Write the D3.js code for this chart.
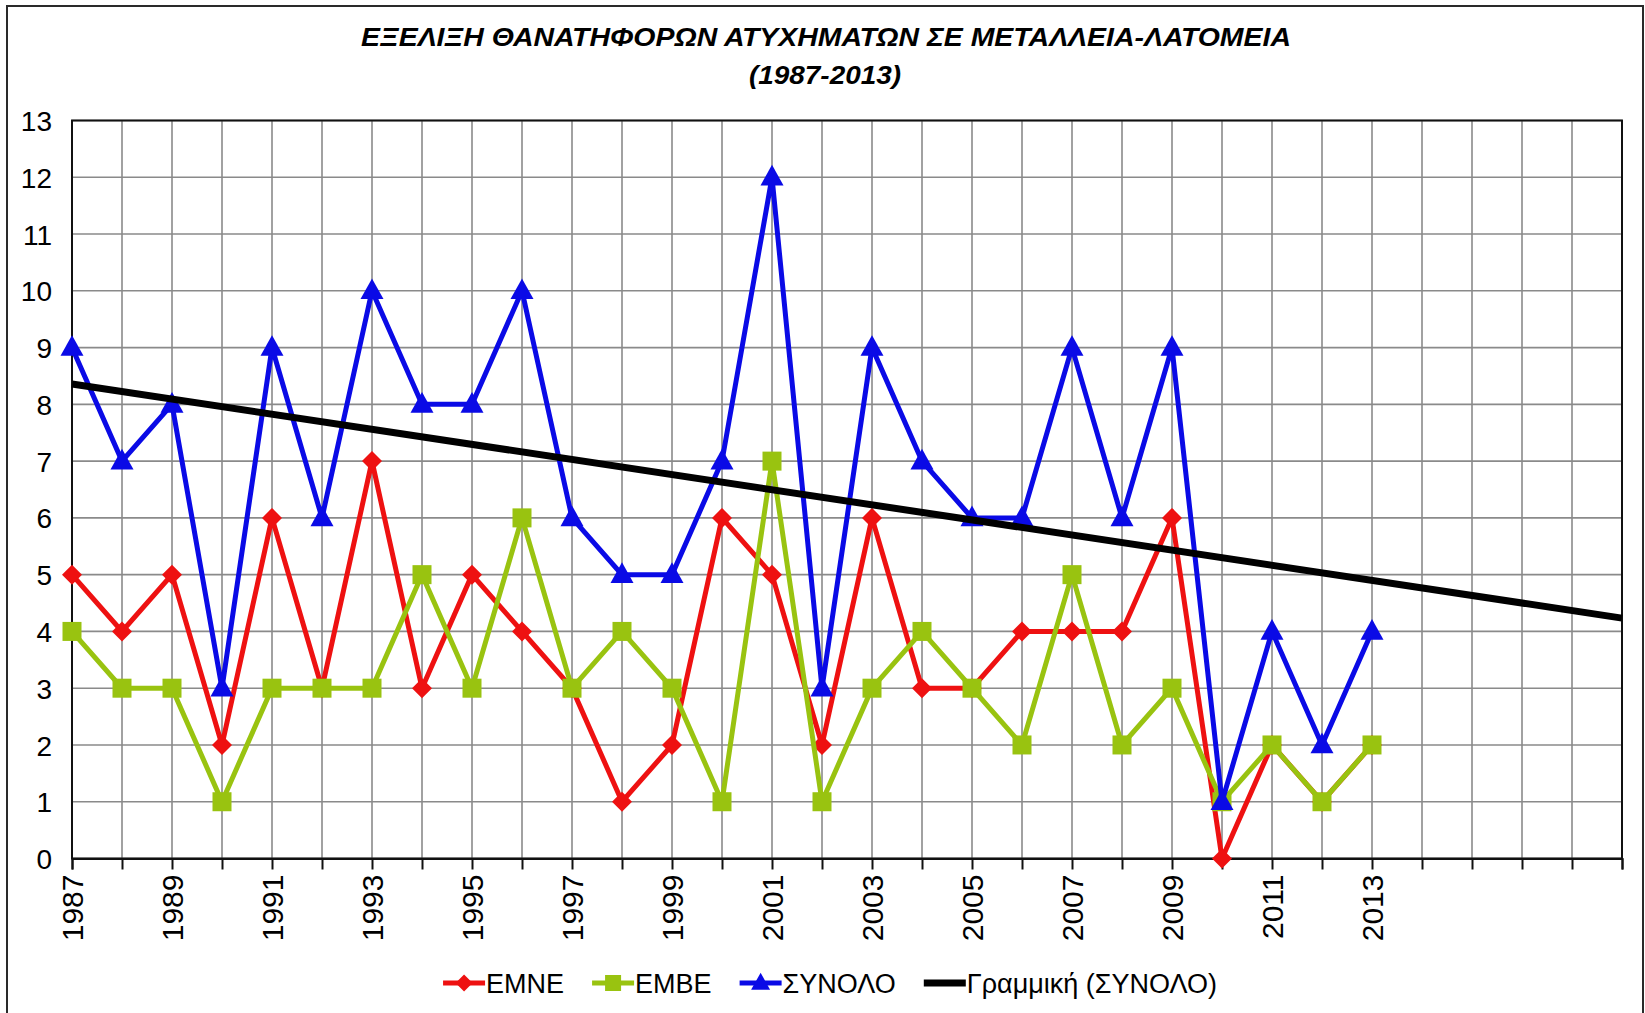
<!DOCTYPE html>
<html>
<head>
<meta charset="utf-8">
<script src="https://cdn.jsdelivr.net/npm/d3@7"></script>
<style>
html,body{margin:0;padding:0;background:#fff;}
svg{display:block;}
text{font-family:"Liberation Sans",Arial,sans-serif;fill:#000;}
</style>
</head>
<body>
<svg id="chart" width="1645" height="1013"></svg>
<script>
// ---- data ----
const years = [1987,1988,1989,1990,1991,1992,1993,1994,1995,1996,1997,1998,1999,2000,
               2001,2002,2003,2004,2005,2006,2007,2008,2009,2010,2011,2012,2013];
const extraCategories = 5; // blank categories to the right (trend forecast)
const emne   = [5,4,5,2,6,3,7,3,5,4,3,1,2,6,5,2,6,3,3,4,4,4,6,0,2,1,2];
const embe   = [4,3,3,1,3,3,3,5,3,6,3,4,3,1,7,1,3,4,3,2,5,2,3,1,2,1,2];
const synolo = [9,7,8,3,9,6,10,8,8,10,6,5,5,7,12,3,9,7,6,6,9,6,9,1,4,2,4];
const yTicks = [0,1,2,3,4,5,6,7,8,9,10,11,12,13];
const seriesNames = ["EMNE","EMBE","ΣΥΝΟΛΟ","Γραμμική (ΣΥΝΟΛΟ)"];
const titleLine1 = "ΕΞΕΛΙΞΗ ΘΑΝΑΤΗΦΟΡΩΝ ΑΤΥΧΗΜΑΤΩΝ ΣΕ ΜΕΤΑΛΛΕΙΑ-ΛΑΤΟΜΕΙΑ";
const titleLine2 = "(1987-2013)";

// ---- layout ----
const svg = d3.select("#chart");
const L = 72, R = 1622, T = 120.5, B = 858.5;
const nCat = years.length + extraCategories;
const catIdx = d3.range(nCat);
const x = d3.scaleLinear().domain([0, nCat - 1]).range([L, R]);
const y = d3.scaleLinear().domain([0, 13]).range([B, T]);

// outer frame
svg.append("rect").attr("x",7).attr("y",6).attr("width",1636).attr("height",1030)
  .attr("fill","#fff").attr("stroke","#2a2a2a").attr("stroke-width",2);

// title
svg.append("text").attr("x",826).attr("y",46).attr("text-anchor","middle")
  .attr("font-size",26).attr("font-weight","bold").attr("font-style","italic")
  .attr("textLength",930).attr("lengthAdjust","spacingAndGlyphs").text(titleLine1);
svg.append("text").attr("x",825).attr("y",84).attr("text-anchor","middle")
  .attr("font-size",26).attr("font-weight","bold").attr("font-style","italic")
  .attr("textLength",152).attr("lengthAdjust","spacingAndGlyphs").text(titleLine2);

// gridlines
const grid = svg.append("g");
grid.selectAll("line.h").data(yTicks).join("line")
  .attr("x1",L).attr("x2",R).attr("y1",d=>y(d)).attr("y2",d=>y(d))
  .attr("stroke","#8a8a8a").attr("stroke-width",1.6);
grid.selectAll("line.v").data(catIdx).join("line")
  .attr("x1",d=>x(d)).attr("x2",d=>x(d)).attr("y1",T).attr("y2",B)
  .attr("stroke","#8a8a8a").attr("stroke-width",1.6);
// plot border
svg.append("rect").attr("x",L).attr("y",T).attr("width",R-L).attr("height",B-T)
  .attr("fill","none").attr("stroke","#111").attr("stroke-width",2);

// y axis
const yAxis = d3.axisLeft(y).tickValues(yTicks).tickSize(0).tickPadding(20);
const gy = svg.append("g").attr("transform",`translate(${L},0)`).call(yAxis);
gy.select(".domain").remove();
gy.selectAll("text").attr("font-size",28).attr("font-family","Liberation Sans, Arial, sans-serif")
  .attr("fill","#111").attr("dy","0.36em");

// x axis
const labelFor = i => (i < years.length && i % 2 === 0) ? String(years[i]) : "";
const xAxis = d3.axisBottom(x).tickValues(catIdx).tickSize(11).tickFormat(labelFor);
const gx = svg.append("g").attr("transform",`translate(0,${B})`).call(xAxis);
gx.select(".domain").attr("stroke","#111").attr("stroke-width",2);
gx.selectAll(".tick line").attr("stroke","#111").attr("stroke-width",2);
gx.selectAll("text").attr("font-size",30).attr("font-family","Liberation Sans, Arial, sans-serif")
  .attr("fill","#111")
  .attr("transform","rotate(-90)")
  .attr("text-anchor","end")
  .attr("x",-16).attr("y",0).attr("dy","0.36em");

// markers
function marker(sel, type, color, size){
  if(type==="diamond"){
    const s=size/2;
    sel.append("path").attr("d",`M0,${-s}L${s},0L0,${s}L${-s},0Z`).attr("fill",color);
  } else if(type==="square"){
    sel.append("rect").attr("x",-size/2).attr("y",-size/2).attr("width",size).attr("height",size).attr("fill",color);
  } else if(type==="triangle"){
    const h=size*0.9, w=size/2;
    sel.append("path").attr("d",`M0,${-h*0.6}L${w},${h*0.4}L${-w},${h*0.4}Z`).attr("fill",color);
  }
}

const series = [
  {name:seriesNames[0], values:emne,   color:"#ee1111", mark:"diamond",  size:20},
  {name:seriesNames[1], values:embe,   color:"#99c310", mark:"square",   size:19},
  {name:seriesNames[2], values:synolo, color:"#0a0ae6", mark:"triangle", size:23}
];
const line = d3.line().x((d,i)=>x(i)).y(d=>y(d));
series.forEach(s=>{
  const g = svg.append("g");
  g.append("path").attr("d",line(s.values)).attr("fill","none")
    .attr("stroke",s.color).attr("stroke-width",5).attr("stroke-linejoin","miter");
  s.values.forEach((v,i)=>{
    const m = g.append("g").attr("transform",`translate(${x(i)},${y(v)})`);
    marker(m, s.mark, s.color, s.size);
  });
});

// linear trendline of ΣΥΝΟΛΟ, forecast forward to the last category
const xs = synolo.map((d,i)=>i);
const mx = d3.mean(xs), my = d3.mean(synolo);
const slope = d3.sum(xs,(xi,i)=>(xi-mx)*(synolo[i]-my)) / d3.sum(xs,xi=>(xi-mx)*(xi-mx));
const intercept = my - slope*mx;
svg.append("line")
  .attr("x1",x(0)).attr("y1",y(intercept))
  .attr("x2",x(nCat-1)).attr("y2",y(intercept + slope*(nCat-1)))
  .attr("stroke","#000").attr("stroke-width",7);

// legend
const legendItems = [
  {name:seriesNames[0], color:"#ee1111", mark:"diamond", size:17},
  {name:seriesNames[1], color:"#99c310", mark:"square", size:16},
  {name:seriesNames[2], color:"#0a0ae6", mark:"triangle", size:19},
  {name:seriesNames[3], color:"#000", mark:null, size:0}
];
const lg = svg.append("g");
const legendY = 983;
const items = legendItems.map(it=>{
  const g = lg.append("g");
  g.append("line").attr("x1",0).attr("x2",42).attr("y1",0).attr("y2",0)
    .attr("stroke",it.color).attr("stroke-width",it.mark?5:7);
  if(it.mark){ const m=g.append("g").attr("transform","translate(21,0)"); marker(m,it.mark,it.color,it.size); }
  const t = g.append("text").attr("x",43).attr("y",0).attr("dy","0.36em")
    .attr("font-size",27).attr("fill","#111").text(it.name);
  const w = 43 + t.node().getComputedTextLength();
  return {g,w};
});
const gap = 28;
const total = d3.sum(items,d=>d.w) + gap*(items.length-1);
let start = 830 - total/2;
items.forEach(d=>{ d.g.attr("transform",`translate(${start},${legendY})`); start += d.w + gap; });
</script>
</body>
</html>
